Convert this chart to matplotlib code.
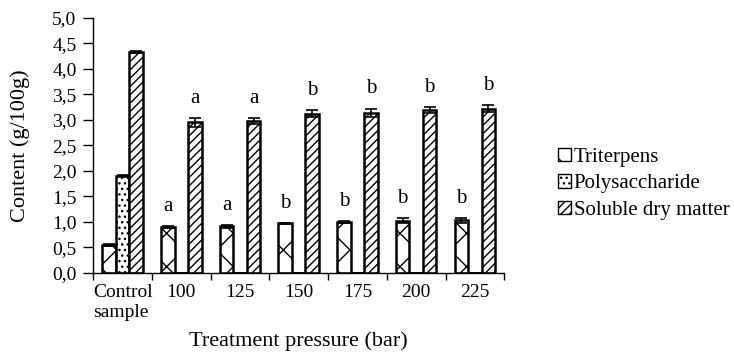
import numpy as np
import matplotlib
matplotlib.use("Agg")
import matplotlib.pyplot as plt
from matplotlib.patches import Patch

plt.rcParams["font.family"] = ["Liberation Serif", "DejaVu Serif"]
plt.rcParams["hatch.linewidth"] = 1.0

groups = ["Control\nsample", "100", "125", "150", "175", "200", "225"]
series = ["Triterpens", "Polysaccharide", "Soluble dry matter"]

triterpens = [0.55, 0.90, 0.91, 0.97, 0.99, 1.02, 1.03]
triterpens_err = [0.02, 0.02, 0.03, 0.01, 0.02, 0.05, 0.05]
polysaccharide = [1.90, 0, 0, 0, 0, 0, 0]
polysaccharide_err = [0.01, 0, 0, 0, 0, 0, 0]
soluble = [4.33, 2.95, 2.98, 3.12, 3.14, 3.19, 3.22]
soluble_err = [0.02, 0.08, 0.06, 0.07, 0.08, 0.06, 0.07]

tri_letters = ["", "a", "a", "b", "b", "b", "b"]
sol_letters = ["", "a", "a", "b", "b", "b", "b"]

hatches = ["x", "...", "////"]

fig = plt.figure(figsize=(7.34, 3.59), dpi=100)
ax = fig.add_axes([0.127, 0.24, 0.560, 0.71])

x = np.arange(len(groups))
w = 0.23
vals = [triterpens, polysaccharide, soluble]
errs = [triterpens_err, polysaccharide_err, soluble_err]
for i in range(3):
    ax.bar(x + (i - 1) * w, vals[i], w, color="white", edgecolor="black",
           linewidth=1.8, hatch=hatches[i],
           yerr=errs[i], capsize=4, error_kw=dict(elinewidth=1.2, capthick=1.2, ecolor="black"))

# significance letters
for j in range(len(groups)):
    if tri_letters[j]:
        ax.text(x[j] - w, triterpens[j] + triterpens_err[j] + 0.2, tri_letters[j],
                ha="center", va="bottom", fontsize=15)
    if sol_letters[j]:
        ax.text(x[j] + w, soluble[j] + soluble_err[j] + 0.2, sol_letters[j],
                ha="center", va="bottom", fontsize=15)

ax.set_xlim(-0.5, len(groups) - 0.5)
ax.set_ylim(0, 5.0)
ax.set_yticks(np.arange(0, 5.01, 0.5))
ax.set_yticklabels([("%.1f" % v).replace(".", ",") for v in np.arange(0, 5.01, 0.5)])
ax.tick_params(axis="y", labelsize=14, direction="out", length=7, width=1, pad=5)

# category boundary ticks, labels at centres
ax.set_xticks(np.arange(len(groups) + 1) - 0.5)
ax.set_xticklabels([])
ax.set_xticks(x, minor=True)
ax.set_xticklabels(groups, minor=True, fontsize=14, multialignment="left")
ax.tick_params(axis="x", which="major", direction="out", length=5, width=1)
ax.tick_params(axis="x", which="minor", length=0, pad=8)

for s in ["top", "right"]:
    ax.spines[s].set_visible(False)
ax.spines["left"].set_linewidth(1)
ax.spines["bottom"].set_linewidth(1)

ax.set_ylabel("Content (g/100g)", fontsize=16)
ax.yaxis.set_label_coords(-0.155, 0.5)
ax.set_xlabel("Treatment pressure (bar)", fontsize=16)
ax.xaxis.set_label_coords(0.5, -0.228)

handles = [Patch(facecolor="white", edgecolor="black", hatch=hatches[i], label=series[i])
           for i in range(3)]
fig.legend(handles=handles, loc="center left", bbox_to_anchor=(0.749, 0.488),
           frameon=False, fontsize=15, handlelength=0.6, handleheight=0.6,
           handletextpad=0.15, labelspacing=0.35, borderaxespad=0)

fig.savefig("out.png", dpi=100)
